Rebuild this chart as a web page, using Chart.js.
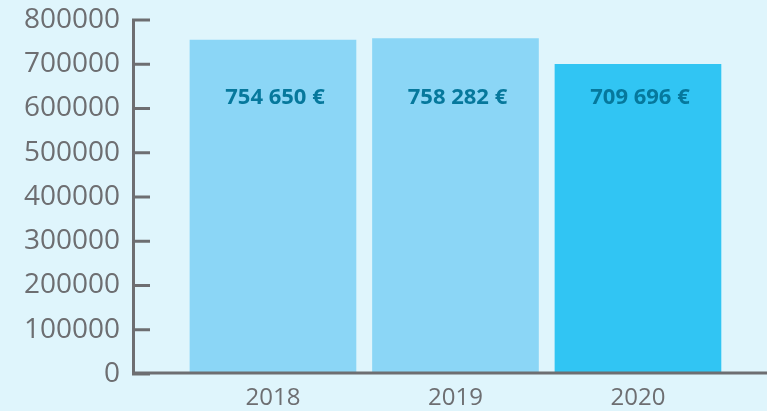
<!DOCTYPE html>
<html>
<head>
<meta charset="utf-8">
<script src="https://cdn.jsdelivr.net/npm/chart.js@4/dist/chart.umd.min.js"></script>
<style>
  html, body { margin: 0; padding: 0; background: #dff5fc; }
  #wrap { width: 767px; height: 411px; position: relative; }
</style>
</head>
<body>
<div id="wrap"><canvas id="c" width="767" height="411"></canvas></div>
<script>
const years = [2018, 2019, 2020];
const values = [754650, 758282, 700000];
const valueLabels = ['754 650 €', '758 282 €', '709 696 €'];
const yTicks = [0, 100000, 200000, 300000, 400000, 500000, 600000, 700000, 800000];

const AXIS = '#6d6e71';

const tickMarks = {
  id: 'tickMarks',
  afterDraw(chart) {
    const ctx = chart.ctx;
    const y = chart.scales.y;
    const left = chart.chartArea.left;
    ctx.save();
    ctx.strokeStyle = AXIS;
    ctx.lineWidth = 3;
    yTicks.forEach(v => {
      const py = y.getPixelForValue(v);
      ctx.beginPath();
      ctx.moveTo(left - 1, py);
      ctx.lineTo(left + 17, py);
      ctx.stroke();
    });
    const py0 = y.getPixelForValue(0);
    ctx.beginPath();
    ctx.moveTo(left - 1, py0 - 1);
    ctx.lineTo(chart.width, py0 - 1);
    ctx.stroke();
    ctx.restore();
  }
};

const barLabels = {
  id: 'barLabels',
  afterDatasetsDraw(chart) {
    const ctx = chart.ctx;
    const meta = chart.getDatasetMeta(0);
    ctx.save();
    ctx.font = 'bold 22px "Open Sans", "Noto Sans", sans-serif';
    ctx.fillStyle = '#06789c';
    ctx.textAlign = 'center';
    ctx.textBaseline = 'middle';
    meta.data.forEach((el, i) => {
      ctx.fillText(valueLabels[i], el.x + 2, chart.chartArea.top + 78);
    });
    ctx.restore();
  }
};

new Chart(document.getElementById('c'), {
  type: 'bar',
  data: {
    datasets: [{
      data: years.map((yr, i) => ({ x: yr, y: values[i] })),
      backgroundColor: ['#8bd6f6', '#8bd6f6', '#31c5f3'],
      barThickness: 166,
      borderWidth: 0
    }]
  },
  options: {
    responsive: false,
    animation: false,
    layout: { padding: { top: 20, right: 0, bottom: 0, left: 0 } },
    plugins: { legend: { display: false }, tooltip: { enabled: false } },
    scales: {
      x: {
        type: 'linear',
        offset: false,
        min: 2017.233,
        max: 2020.707,
        grid: { display: false, drawTicks: false, offset: false },
        border: { display: false },
        afterBuildTicks(scale) { scale.ticks = years.map(v => ({ value: v })); },
        ticks: {
          autoSkip: false,
          maxRotation: 0,
          color: AXIS,
          padding: 10,
          font: { family: '"Open Sans", "Noto Sans", sans-serif', size: 24 },
          callback: v => String(v)
        },
        afterFit(scale) { scale.height = 37; }
      },
      y: {
        min: 0,
        max: 800000,
        grid: { display: false, drawTicks: false },
        border: { display: true, color: AXIS, width: 3 },
        afterBuildTicks(scale) { scale.ticks = yTicks.map(v => ({ value: v })); },
        ticks: {
          color: AXIS,
          padding: 13,
          font: { family: '"Open Sans", "Noto Sans", sans-serif', size: 28, lineHeight: 0.5 },
          callback: v => String(v)
        },
        afterFit(scale) { scale.width = 133; }
      }
    }
  },
  plugins: [tickMarks, barLabels]
});
</script>
</body>
</html>
